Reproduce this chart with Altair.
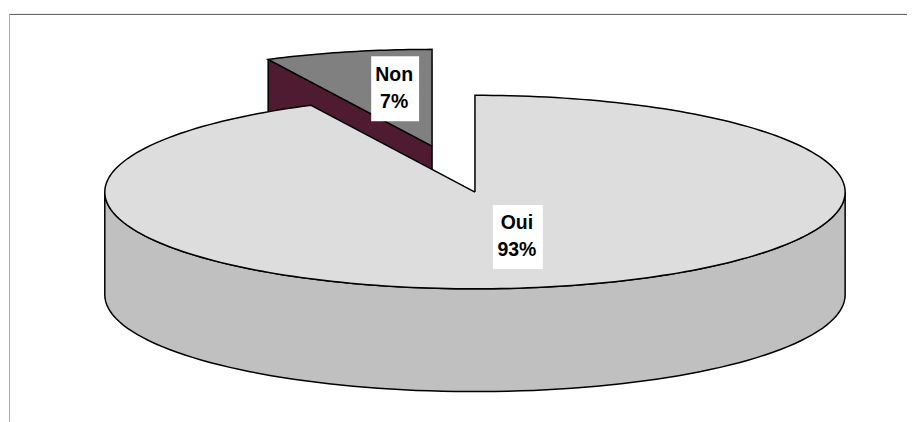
import numpy as np
import pandas as pd
import altair as alt

# ---- data ----
categories = ["Oui", "Non"]
shares = [92.7, 7.3]
labels = ["93%", "7%"]

# ---- projection of the 3-D pie (unit circle -> ellipse through the scales) ----
W, H = 900, 414
CX, CY, RX, RY = 467.0, 184.0, 371.0, 97.0
DEPTH = 103.0 / RY
EXPLODE_X, EXPLODE_Y = -43.0 / RX, 46.0 / RY
x_scale = alt.Scale(domain=[(0 - CX) / RX, (W - CX) / RX], range=[0, W], nice=False, zero=False)
y_scale = alt.Scale(domain=[(CY - H) / RY, CY / RY], range=[H, 0], nice=False, zero=False)


def arc(a0, a1, n=90, dx=0.0, dy=0.0):
    t = np.radians(np.linspace(a0, a1, n))
    return list(zip(np.sin(t) + dx, np.cos(t) + dy))


def poly(points, fill):
    pts = list(points) + [points[0]]
    df = pd.DataFrame(pts, columns=["u", "v"])
    df["i"] = range(len(df))
    return (
        alt.Chart(df)
        .mark_line(fill=fill, stroke="#000000", strokeWidth=1.5, strokeJoin="miter", clip=False)
        .encode(
            x=alt.X("u:Q", scale=x_scale, axis=None),
            y=alt.Y("v:Q", scale=y_scale, axis=None),
            order="i:Q",
        )
    )


end = 360 * shares[0] / sum(shares)
ex, ey = EXPLODE_X, EXPLODE_Y

corner = (np.sin(np.radians(end)) + ex, np.cos(np.radians(end)) + ey)
non_wall = poly(
    [corner, (ex, ey), (ex, ey - DEPTH), (corner[0], corner[1] - DEPTH)], "#4F1B30"
)
non_top = poly([(ex, ey)] + arc(end, 360, 30, ex, ey), "#808080")
oui_wall = poly(arc(90, 270) + arc(270, 90, dy=-DEPTH), "#C0C0C0")
oui_top = poly([(0.0, 0.0)] + arc(0, end, 240), "#DDDDDD")

# ---- labels ----
lab = pd.DataFrame(
    {
        "name": categories,
        "pct": labels,
        "u": [(510 - CX) / RX, (387 - CX) / RX],
        "v": [(CY - 229) / RY, (CY - 80.5) / RY],
        "hw": [25 / RX, 24 / RX],
        "hh": [32 / RY, 32.5 / RY],
    }
)
lab["x0"], lab["x1"] = lab.u - lab.hw, lab.u + lab.hw
lab["y0"], lab["y1"] = lab.v - lab.hh, lab.v + lab.hh

boxes = (
    alt.Chart(lab)
    .mark_rect(color="#FFFFFF")
    .encode(
        x=alt.X("x0:Q", scale=x_scale, axis=None),
        x2="x1:Q",
        y=alt.Y("y0:Q", scale=y_scale, axis=None),
        y2="y1:Q",
    )
)


def text(field, dy):
    return (
        alt.Chart(lab)
        .mark_text(font="Liberation Sans", fontWeight="bold", fontSize=19.5, color="#000000", dx=-1, dy=dy)
        .encode(
            x=alt.X("u:Q", scale=x_scale, axis=None),
            y=alt.Y("v:Q", scale=y_scale, axis=None),
            text=f"{field}:N",
        )
    )


frame_top = alt.Chart(lab).mark_rule(color="#666666", strokeWidth=1).encode(
    x=alt.value(0), x2=alt.value(W), y=alt.value(6)
)
frame_left = alt.Chart(lab).mark_rule(color="#AAAAAA", strokeWidth=1).encode(
    x=alt.value(0.5), y=alt.value(6), y2=alt.value(H)
)

chart = (
    alt.layer(
        frame_top, frame_left, non_wall, non_top, oui_wall, oui_top, boxes,
        text("name", -13.5), text("pct", 13.5),
    )
    .properties(width=W, height=H, padding=0, background="#FFFFFF")
    .configure_view(stroke=None)
)

chart.save("out.html", embed_options={"renderer": "svg", "actions": False})
